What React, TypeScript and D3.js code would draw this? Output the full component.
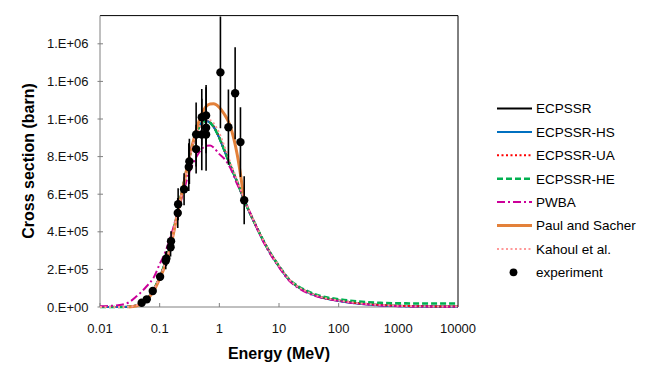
import React from 'react';
import * as d3 from 'd3';

const energies = [0.01, 0.02, 0.03, 0.04, 0.05, 0.06, 0.08, 0.1, 0.12, 0.15, 0.2, 0.25, 0.3, 0.4, 0.5, 0.6, 0.7, 0.8, 1, 1.2, 1.5, 2, 2.5, 3, 4, 5, 7, 10, 15, 20, 30, 50, 100, 200, 500, 1000, 2000, 5000, 10000];

const ecpssr = [0, 0, 1000, 8000, 21000, 42000, 95000, 159000, 223000, 324000, 510000, 650000, 768000, 912000, 975000, 989000, 981000, 960000, 900000, 838000, 760000, 663000, 585000, 525000, 440000, 377000, 292000, 217000, 143000, 111000, 80000, 53000, 34500, 21000, 10600, 6400, 4200, 2700, 2000];
const ecpssrHS = [0, 0, 1000, 8000, 21000, 42000, 95000, 159000, 223000, 324000, 510000, 650000, 770000, 915000, 980000, 991000, 979000, 958000, 898000, 836000, 758000, 661000, 583000, 523000, 438000, 375000, 290000, 215000, 141000, 109000, 78000, 51000, 32000, 18000, 8000, 4500, 2500, 1200, 600];
const ecpssrUA = [0, 0, 1000, 8000, 21000, 42000, 95000, 159000, 223000, 324000, 510000, 650000, 768000, 912000, 975000, 989000, 981000, 960000, 900000, 838000, 760000, 663000, 585000, 525000, 440000, 377000, 292000, 217000, 143000, 111000, 80000, 53000, 34500, 21000, 10600, 6400, 4200, 2700, 2000];
const ecpssrHE = [0, 0, 1000, 8000, 21000, 42000, 95000, 159000, 223000, 324000, 510000, 650000, 768000, 912000, 975000, 989000, 981000, 960000, 900000, 838000, 760000, 663000, 585000, 525000, 440000, 377000, 292000, 218000, 145000, 114000, 84000, 58000, 41000, 30000, 22000, 19500, 18800, 18500, 18500];
const pwba = [3700, 9500, 24000, 54000, 82000, 109000, 159000, 228000, 281000, 366000, 504000, 610000, 700000, 790000, 838000, 857000, 859000, 849000, 813000, 790000, 745000, 652000, 589000, 530000, 440000, 371000, 286000, 212000, 138000, 106000, 74000, 50000, 32000, 18500, 8000, 4200, 2700, 2000, 1600];
const kahoul = [0, 0, 1500, 9000, 22000, 43000, 95000, 158000, 220000, 320000, 505000, 645000, 762000, 908000, 974000, 994000, 993000, 978000, 925000, 860000, 775000, 672000, 590000, 528000, 442000, 379000, 294000, 219000, 145000, 112000, 81000, 54000, 35000, 21500, 11000, 6600, 4300, 2800, 2100];

const paulEnergy = [0.03, 0.04, 0.05, 0.06, 0.08, 0.1, 0.12, 0.15, 0.2, 0.25, 0.3, 0.4, 0.5, 0.6, 0.7, 0.8, 1, 1.2, 1.5, 2, 2.3, 2.6];
const paulSacher = [500, 5000, 18500, 37000, 87500, 151000, 212000, 313000, 500000, 645000, 768000, 928000, 1024000, 1066000, 1080000, 1081000, 1061000, 1028000, 968000, 808000, 690000, 568000];

const expEnergy = [0.05, 0.0608, 0.0766, 0.1016, 0.1265, 0.1295, 0.1524, 0.155, 0.201, 0.204, 0.2565, 0.3077, 0.3147, 0.4085, 0.4085, 0.508, 0.508, 0.6, 0.6, 0.6, 1.043, 1.42, 1.84, 2.26, 2.61];
const expValue = [22800, 40800, 84900, 160700, 245600, 258000, 318300, 350000, 500300, 546400, 626000, 744300, 774500, 839800, 917800, 1009600, 917800, 1018600, 953300, 917800, 1248000, 956500, 1137000, 877000, 567600];
const expError = [8000, 10000, 15000, 20000, 45000, 40000, 50000, 53000, 80000, 85000, 85000, 127000, 120000, 130000, 170000, 150000, 190000, 150000, 228000, 100000, 297000, 200000, 245000, 186000, 128000];

const xTickValues = [0.01, 0.1, 1, 10, 100, 1000, 10000];
const xTickLabels = ['0.01', '0.1', '1', '10', '100', '1000', '10000'];
const yTickValues = [0, 200000, 400000, 600000, 800000, 1000000, 1200000, 1400000];

const seriesNames = ['ECPSSR', 'ECPSSR-HS', 'ECPSSR-UA', 'ECPSSR-HE', 'PWBA', 'Paul and Sacher', 'Kahoul et al.'];
const seriesX = [energies, energies, energies, energies, energies, paulEnergy, energies];
const seriesValues = [ecpssr, ecpssrHS, ecpssrUA, ecpssrHE, pwba, paulSacher, kahoul];

const styles = [
  { color: '#000000', width: 2, dash: '' },
  { color: '#0070C0', width: 2, dash: '' },
  { color: '#FF0000', width: 2, dash: '2,2.5' },
  { color: '#00B050', width: 2.6, dash: '6,3' },
  { color: '#CC0099', width: 2, dash: '8,3,2,3' },
  { color: '#E3813A', width: 3, dash: '' },
  { color: '#FF9999', width: 2, dash: '2,2.5' },
];

function fmtExp(v: number): string {
  if (v === 0) return '0.E+00';
  let e = Math.floor(Math.log10(v));
  let m = Math.round(v / Math.pow(10, e));
  if (m >= 10) { m = 1; e += 1; }
  return `${m}.E+${String(e).padStart(2, '0')}`;
}

export default function App() {
  const W = 653, H = 381;
  const left = 100, right = 458, top = 15.6, bottom = 307;
  const x = d3.scaleLog().domain([0.01, 10000]).range([left, right]);
  const y = d3.scaleLinear().domain([0, 1550000]).range([bottom, top]);
  const line = d3.line<[number, number]>()
    .x(d => x(d[0]))
    .y(d => y(d[1]))
    .curve(d3.curveMonotoneX);
  const font = "'Liberation Sans', Arial, sans-serif";
  const legendY0 = 108.5, legendStep = 23.4;

  return (
    <svg width={W} height={H} style={{ position: 'absolute', left: 0, top: 0, background: '#fff' }}
      fontFamily={font}>
      <defs>
        <clipPath id="plot">
          <rect x={left} y={top} width={right - left} height={bottom - top + 2} />
        </clipPath>
      </defs>
      <rect x={0} y={0} width={W} height={H} fill="#fff" />
      <line x1={left} x2={right} y1={top} y2={top} stroke="#000" strokeWidth={1} />
      <line x1={right} x2={right} y1={top} y2={bottom} stroke="#000" strokeWidth={1} />
      <line x1={left} x2={left} y1={top} y2={bottom} stroke="#808080" strokeWidth={1} />
      <line x1={left} x2={right} y1={bottom} y2={bottom} stroke="#808080" strokeWidth={1} />
      {yTickValues.map((v, i) => (
        <g key={'y' + i}>
          <line x1={left - 2.5} x2={left + 3} y1={y(v)} y2={y(v)} stroke="#808080" strokeWidth={1} />
          <text x={88.5} y={y(v)} dy="0.36em" textAnchor="end" fontSize={13} fill="#111">{fmtExp(v)}</text>
        </g>
      ))}
      {xTickValues.map((v, i) => (
        <g key={'x' + i}>
          <line x1={x(v)} x2={x(v)} y1={bottom - 4} y2={bottom} stroke="#808080" strokeWidth={1} />
          <text x={x(v)} y={333} textAnchor="middle" fontSize={13} fill="#111">{xTickLabels[i]}</text>
        </g>
      ))}
      <text x={279} y={359} textAnchor="middle" fontSize={16} fontWeight="bold" fill="#000">Energy (MeV)</text>
      <text transform="translate(33.5,161) rotate(-90)" textAnchor="middle" fontSize={16} fontWeight="bold" fill="#000">Cross section (barn)</text>

      <g clipPath="url(#plot)">
        {seriesValues.map((vals, i) => (
          <path key={'s' + i}
            d={line(seriesX[i].map((e, j) => [e, vals[j]] as [number, number])) || ''}
            fill="none" stroke={styles[i].color} strokeWidth={styles[i].width}
            strokeDasharray={styles[i].dash || undefined} />
        ))}
        {expEnergy.map((e, i) => (
          <line key={'eb' + i} x1={x(e)} x2={x(e)} y1={y(expValue[i] + expError[i])} y2={y(expValue[i] - expError[i])}
            stroke="#000" strokeWidth={1.6} />
        ))}
        {expEnergy.map((e, i) => (
          <circle key={'pt' + i} cx={x(e)} cy={y(expValue[i])} r={4.2} fill="#000" />
        ))}
      </g>

      {seriesNames.map((name, i) => {
        const ly = legendY0 + i * legendStep;
        return (
          <g key={'lg' + i}>
            <line x1={497} x2={532} y1={ly} y2={ly} stroke={styles[i].color} strokeWidth={styles[i].width}
              strokeDasharray={styles[i].dash || undefined} />
            <text x={536} y={ly} dy="0.36em" fontSize={13.5} fill="#000">{name}</text>
          </g>
        );
      })}
      <circle cx={513.5} cy={legendY0 + 7 * legendStep} r={3.9} fill="#000" />
      <text x={536} y={legendY0 + 7 * legendStep} dy="0.36em" fontSize={13.5} fill="#000">experiment</text>
    </svg>
  );
}
